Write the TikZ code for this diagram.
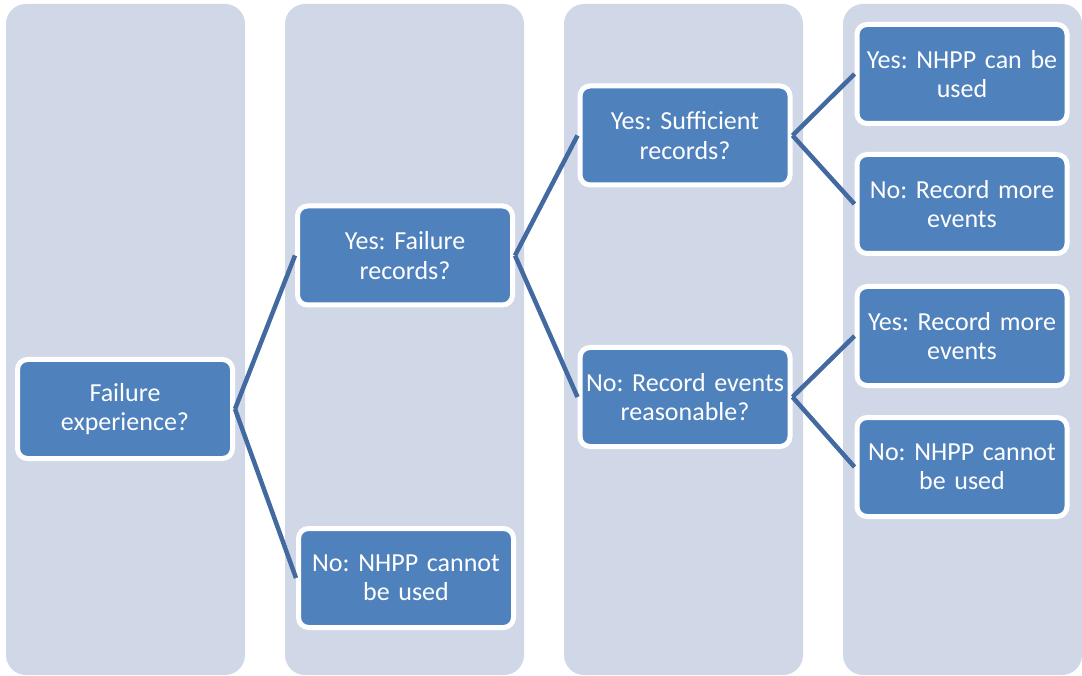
\documentclass[tikz,border=0pt]{standalone}
\usepackage{fontspec}
\setmainfont{Carlito}
\definecolor{lanebg}{HTML}{D0D8E8}
\definecolor{boxfill}{HTML}{4F81BD}
\definecolor{linkcol}{HTML}{436AA0}
\begin{document}
\begin{tikzpicture}[x=1pt,y=-1pt,
  lane/.style={fill=lanebg,draw=none,rounded corners=20pt},
  box/.style={fill=boxfill,draw=white,line width=5pt,rounded corners=10pt,
    minimum height=99pt,inner sep=0pt,align=center,text=white,
    font=\fontsize{26pt}{29.5pt}\selectfont\frenchspacing},
  wide/.style={box,minimum width=215pt,text width=205pt},
  narrow/.style={box,minimum width=210pt,text width=205pt},
  link/.style={draw=linkcol,line width=4.5pt}]
\useasboundingbox (0,0) rectangle (1082,676);
% four background lanes
\fill[lane] (6,4) rectangle (245,675);
\fill[lane] (285,4) rectangle (524,675);
\fill[lane] (564,4) rectangle (803,675);
\fill[lane] (843,4) rectangle (1082,675);
% decision boxes
\node[wide] (root) at (125,409) {Failure\\experience?};
\node[wide] (rec) at (405,255.5) {Yes: Failure\\records?};
\node[wide] (norec) at (406,578) {No: NHPP cannot\\be used};
\node[narrow] (suff) at (685,135.5) {Yes: Sufficient\\records?};
\node[narrow] (reas) at (685,397) {No: Record events\\reasonable?};
\node[narrow] (can) at (962,74) {Yes: NHPP can be\\used};
\node[narrow] (more1) at (962,204) {No: Record more\\events};
\node[narrow] (more2) at (962,336) {Yes: Record more\\events};
\node[narrow] (cannot) at (962,467) {No: NHPP cannot\\be used};
% connectors from each box to its two children
\draw[link] (root.east) -- (rec.west);
\draw[link] (root.east) -- (norec.west);
\draw[link] (rec.east) -- (suff.west);
\draw[link] (rec.east) -- (reas.west);
\draw[link] (suff.east) -- (can.west);
\draw[link] (suff.east) -- (more1.west);
\draw[link] (reas.east) -- (more2.west);
\draw[link] (reas.east) -- (cannot.west);
\end{tikzpicture}
\end{document}
